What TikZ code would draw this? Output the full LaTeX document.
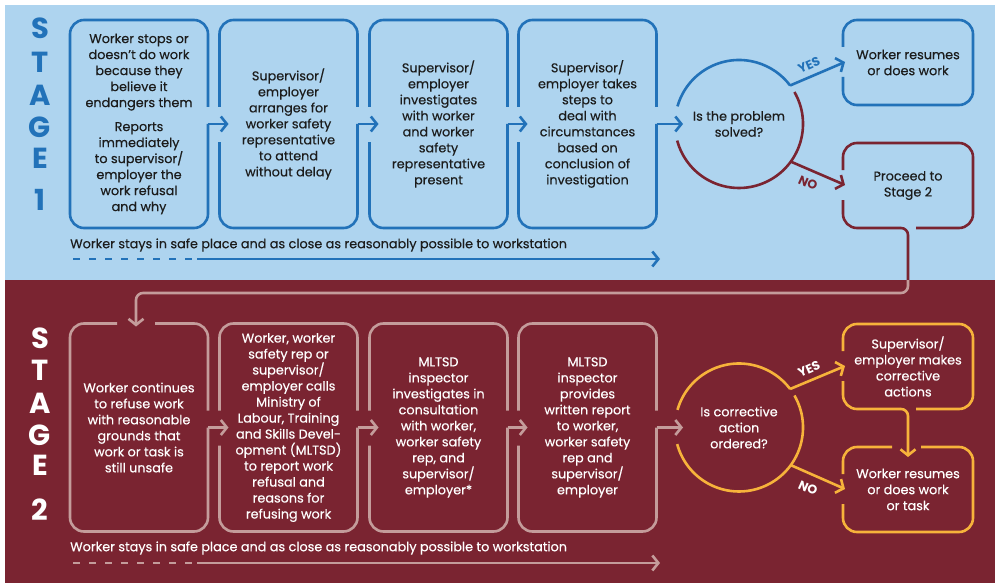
\documentclass[tikz,border=0pt]{standalone}
\usepackage{fontspec}
\setmainfont{Poppins}
\newfontfamily\medfont{Poppins}[FakeBold=0.35]
\usetikzlibrary{arrows.meta,calc}
\definecolor{bgblue}{HTML}{AED4EF}
\definecolor{lnblue}{HTML}{2272B9}
\definecolor{bgred}{HTML}{7A2431}
\definecolor{lnpink}{HTML}{C49C9B}
\definecolor{lnyel}{HTML}{F7B33B}
\definecolor{txtdark}{HTML}{1C1C1C}
\newcommand\boxfont{\medfont\fontsize{12.8}{16}\selectfont}
\newcommand\midbox[2]{%
  \draw[ln,#2,rounded corners=14pt] ($(#1.north west)+(0,87)$) |- (#1.north east) -- ($(#1.north east)+(0,87)$);
  \draw[ln,#2,rounded corners=14pt] ($(#1.north west)+(0,122)$) |- (#1.south east) -- ($(#1.north east)+(0,104)$);}
\begin{document}
\begin{tikzpicture}[x=1pt,y=-1pt,
  ln/.style={line width=2.6pt},
  arr/.style={ln,-{Straight Barb[length=6pt,width=15pt]}},
  boxn/.style={rectangle,inner sep=0pt,outer sep=0pt,minimum width=138pt,minimum height=208pt,align=center,font=\boxfont},
  sbox/.style={rectangle,inner sep=0pt,outer sep=0pt,minimum width=130pt,minimum height=85pt,align=center,font=\boxfont},
  circn/.style={inner sep=0pt,outer sep=0pt,align=center,font=\boxfont},
  stagelet/.style={font=\fontsize{29}{29}\selectfont\bfseries,inner sep=0pt},
  yesno/.style={font=\fontsize{12.5}{12.5}\selectfont\bfseries,inner sep=0pt},
  note/.style={font=\boxfont,anchor=west,inner sep=0pt}]
\useasboundingbox (0,0) rectangle (995,583);
\fill[white] (0,0) rectangle (995,583);
\fill[bgblue] (5,5) rectangle (995,280);
\fill[bgred] (5,280) rectangle (995,583);

% ---------- STAGE letters
\foreach \l/\yy [count=\i] in {S/28,T/62,A/95,G/127,E/158,1/200}
  \node[stagelet,text=lnblue] (sa\i) at (40,\yy) {\l};
\foreach \l/\yy [count=\i] in {S/338,T/370,A/403,G/435,E/465,2/510}
  \node[stagelet,text=white] (sb\i) at (40,\yy) {\l};

% ---------- Stage 1 nodes
\begin{scope}[text=txtdark]
\node[boxn] (b1) at (139,124) {Worker stops or\\doesn’t do work\\because they\\believe it\\endangers them\\[8pt]Reports\\immediately\\to supervisor/\\employer the\\work refusal\\and why};
\node[boxn] (b2) at (288.5,124) {Supervisor/\\employer\\arranges for\\worker safety\\representative\\to attend\\without delay};
\node[boxn] (b3) at (438.5,124) {Supervisor/\\employer\\investigates\\with worker\\and worker\\safety\\representative\\present};
\node[boxn] (b4) at (587.5,124) {Supervisor/\\employer takes\\steps to\\deal with\\circumstances\\based on\\conclusion of\\investigation};
\node[circn] (c1) at (739,124) {Is the problem\\solved?};
\node[sbox] (r1) at (908,62.5) {Worker resumes\\or does work};
\node[sbox] (p1) at (908,185.5) {Proceed to\\Stage 2};
\node[note] (n1) at (70,245) {Worker stays in safe place and as close as reasonably possible to workstation};
\end{scope}

% ---------- Stage 2 nodes
\begin{scope}[text=white]
\node[boxn] (B1) at (139,427.5) {Worker continues\\to refuse work\\with reasonable\\grounds that\\work or task is\\still unsafe};
\node[boxn] (B2) at (288.5,427.5) {Worker, worker\\safety rep or\\supervisor/\\employer calls\\Ministry of\\Labour, Training\\and Skills Devel-\\opment (MLTSD)\\to report work\\refusal and\\reasons for\\refusing work};
\node[boxn] (B3) at (438.5,427.5) {MLTSD\\inspector\\investigates in\\consultation\\with worker,\\worker safety\\rep, and\\supervisor/\\employer*};
\node[boxn] (B4) at (587.5,427.5) {MLTSD\\inspector\\provides\\written report\\to worker,\\worker safety\\rep and\\supervisor/\\employer};
\node[circn] (c2) at (739,427.5) {Is corrective\\action\\ordered?};
\node[sbox] (s1) at (908,366.5) {Supervisor/\\employer makes\\corrective\\actions};
\node[sbox] (w2) at (908,489.5) {Worker resumes\\or does work\\or task};
\node[note] (n2) at (70,548) {Worker stays in safe place and as close as reasonably possible to workstation};
\end{scope}

% ---------- Stage 1 outlines
\draw[ln,lnblue,rounded corners=14pt] ($(b1.north east)+(0,87)$) |- (b1.north west) |- (b1.south east) -- ($(b1.north east)+(0,104)$);
\midbox{b2}{lnblue}
\midbox{b3}{lnblue}
\midbox{b4}{lnblue}
\draw[arr,lnblue] ($(b1.north east)+(0,104)$) -- ($(b2.north west)+(9,104)$);
\draw[arr,lnblue] ($(b2.north east)+(0,104)$) -- ($(b3.north west)+(9,104)$);
\draw[arr,lnblue] ($(b3.north east)+(0,104)$) -- ($(b4.north west)+(9,104)$);
\draw[arr,lnblue] ($(b4.north east)+(0,104)$) -- ($(c1)+(-56,0)$);
% circle (visual angle a  <->  polar angle -a, since y points down)
\draw[ln,lnblue] ($(c1)+(-164:64)$) arc[start angle=-164,end angle=-37,radius=64];
\draw[ln,bgred] ($(c1)+(-30:64)$) arc[start angle=-30,end angle=165,radius=64];
\draw[arr,lnblue] ($(c1)+(-37:64)$) -- ($(r1.north west)+(2,42)$);
\draw[arr,bgred] ($(c1)+(36:64)$) -- ($(p1.north west)+(2,42)$);
\node[yesno,text=lnblue,rotate=24] (y1) at (809,65) {YES};
\node[yesno,text=bgred,rotate=-24] (o1) at (808,183) {NO};
% right boxes
\draw[ln,lnblue,rounded corners=14pt] ($(r1.north west)+(0,27)$) |- (r1.north east) |- (r1.south west) -- ($(r1.north west)+(0,57)$);
\draw[ln,bgred,rounded corners=14pt] ($(p1.north west)+(0,27)$) |- (p1.north east) |- ($(p1.south east)+(-57,0)$);
\draw[ln,bgred,rounded corners=14pt] ($(p1.north west)+(0,57)$) |- ($(p1.south)+(-8,0)$);
\coordinate (bend) at (908,293);
\begin{scope}
  \clip (0,0) rectangle (995,280);
  \draw[arr,bgred,rounded corners=7pt] ($(p1.south)+(-8,0)$) -- (p1.south) -- (bend) -| ($(B1.north west)+(66,3)$);
\end{scope}
\begin{scope}
  \clip (0,280) rectangle (995,583);
  \draw[arr,lnpink,rounded corners=7pt] ($(p1.south)+(-8,0)$) -- (p1.south) -- (bend) -| ($(B1.north west)+(66,3)$);
\end{scope}
% bottom line
\coordinate (d1s) at (73,259);
\coordinate (d1m) at (197,259);
\coordinate (d1e) at (660,259);
\draw[ln,lnblue,dash pattern=on 7pt off 9pt] (d1s) -- (d1m);
\draw[arr,lnblue] (d1m) -- (d1e);

% ---------- Stage 2 outlines
\draw[ln,lnpink,rounded corners=14pt] ($(B1.north west)+(47,0)$) -- (B1.north west) |- (B1.south east) -- ($(B1.north east)+(0,104)$);
\draw[ln,lnpink,rounded corners=14pt] ($(B1.north west)+(85,0)$) -- (B1.north east) -- ($(B1.north east)+(0,87)$);
\midbox{B2}{lnpink}
\midbox{B3}{lnpink}
\midbox{B4}{lnpink}
\draw[arr,lnpink] ($(B1.north east)+(0,104)$) -- ($(B2.north west)+(9,104)$);
\draw[arr,lnpink] ($(B2.north east)+(0,104)$) -- ($(B3.north west)+(9,104)$);
\draw[arr,lnpink] ($(B3.north east)+(0,104)$) -- ($(B4.north west)+(9,104)$);
\draw[arr,lnpink] ($(B4.north east)+(0,104)$) -- ($(c2)+(-56,0)$);
\draw[ln,lnyel] ($(c2)+(-164:64)$) arc[start angle=-164,end angle=-37,radius=64];
\draw[ln,lnyel] ($(c2)+(-30:64)$) arc[start angle=-30,end angle=165,radius=64];
\draw[arr,lnyel] ($(c2)+(-37:64)$) -- ($(s1.north west)+(2,42)$);
\draw[arr,lnyel] ($(c2)+(36:64)$) -- ($(w2.north west)+(2,42)$);
\node[yesno,text=white,rotate=24] (y2) at (809,369) {YES};
\node[yesno,text=white,rotate=-24] (o2) at (808,488) {NO};
\draw[ln,lnyel,rounded corners=14pt] ($(s1.north west)+(0,27)$) |- (s1.north east) |- ($(s1.south east)+(-57,0)$);
\draw[ln,lnyel,rounded corners=14pt] ($(s1.north west)+(0,57)$) |- ($(s1.south)+(-8,0)$);
\draw[arr,lnyel,rounded corners=7pt] ($(s1.south)+(-8,0)$) -- (s1.south) -- ($(w2.north)+(0,10)$);
\draw[ln,lnyel,rounded corners=14pt] ($(w2.north west)+(0,57)$) |- (w2.south east) |- ($(w2.north east)+(-52,0)$);
\draw[ln,lnyel,rounded corners=14pt] ($(w2.north west)+(49,0)$) -| ($(w2.north west)+(0,27)$);
\coordinate (d2s) at (73,563);
\coordinate (d2m) at (197,563);
\coordinate (d2e) at (660,563);
\draw[ln,lnpink,dash pattern=on 7pt off 9pt] (d2s) -- (d2m);
\draw[arr,lnpink] (d2m) -- (d2e);
\end{tikzpicture}
\end{document}
